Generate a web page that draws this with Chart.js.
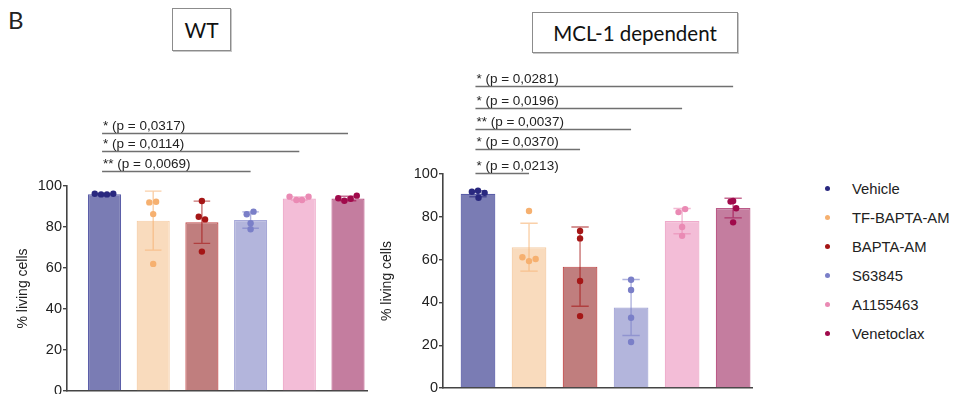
<!DOCTYPE html>
<html>
<head>
<meta charset="utf-8">
<script src="https://cdn.jsdelivr.net/npm/chart.js@4.4.1/dist/chart.umd.min.js"></script>
<style>
  body { margin: 0; background: #fff; font-family: "Liberation Sans", Arial, sans-serif; color: #222; }
  #page { position: relative; width: 953px; height: 394px; overflow: hidden; }
  .panel { position: absolute; top: 60px; width: 380px; height: 360px; }
  .tbox { position: absolute; box-sizing: border-box; border: 1px solid #8c8c8c; box-shadow: 1px 1px 0 #c8c8c8;
          display: flex; align-items: center; justify-content: center; font-family: Lato, "Open Sans", sans-serif; color: #111; }
  #letter { position: absolute; left: 8px; top: 5px; font-family: Lato, sans-serif; font-size: 24px; color: #222; }
  #legend { position: absolute; left: 825px; top: 174px; }
  .item { height: 29px; display: flex; align-items: center; font-size: 14.8px; color: #222; }
  .dot { width: 5px; height: 5px; border-radius: 50%; margin-right: 22px; }
</style>
</head>
<body>
<div id="page">
  <div id="letter">B</div>
  <div class="tbox" style="left:172px;top:8px;width:59px;height:43px;font-size:21px;">WT</div>
  <div class="tbox" style="left:532px;top:12px;width:206px;height:41px;font-size:20.5px;">MCL-1 dependent</div>
  <div class="panel" style="left:0px;"><canvas id="wtChart"></canvas></div>
  <div class="panel" style="left:380px;"><canvas id="mclChart"></canvas></div>
  <div id="legend"></div>
</div>
<script>
const categories = ['Vehicle', 'TF-BAPTA-AM', 'BAPTA-AM', 'S63845', 'A1155463', 'Venetoclax'];

// WT panel
const wtMeans = [96.0, 83.1, 82.3, 83.4, 93.9, 93.9];
const wtSd = [0.3, 14.4, 10.3, 4.0, 0.8, 1.1];
const wtPoints = [
    [96.2, 95.9, 95.9, 96.2],
    [92.0, 92.3, 86.3, 62.0],
    [92.7, 85.0, 83.7, 68.0],
    [86.2, 87.5, 81.8, 78.9],
    [94.8, 93.2, 93.2, 94.8],
    [94.0, 92.8, 93.8, 95.3]
];
const wtJitter = [
    [-0.2, -0.07, 0.05, 0.18],
    [-0.08, 0.06, 0, 0],
    [0, -0.065, 0.065, 0],
    [-0.08, 0.06, 0, 0],
    [-0.2, -0.06, 0.055, 0.19],
    [-0.2, -0.075, 0.055, 0.18]
];
const wtTestTo = [5, 4, 3];
const wtTestLabels = ['* (p = 0,0317)', '* (p = 0,0114)', '** (p = 0,0069)'];

// MCL-1 dependent panel
const mclMeans = [90.8, 65.8, 56.7, 37.6, 78.0, 84.1];
const mclSd = [1.4, 11.2, 18.5, 13.1, 5.9, 4.6];
const mclPoints = [
    [91.7, 92.2, 91.2, 88.9],
    [82.7, 61.1, 59.3, 60.3],
    [73.4, 69.9, 50.0, 33.6],
    [50.6, 45.8, 32.8, 21.5],
    [82.2, 83.6, 75.2, 71.1],
    [87.1, 87.4, 84.0, 77.4]
];
const mclJitter = [
    [-0.12, 0, 0.13, 0.01],
    [0, -0.13, 0, 0.13],
    [0, 0, 0, 0],
    [0, 0, 0, 0],
    [-0.07, 0.06, 0, 0],
    [-0.05, 0, 0.06, 0]
];
const mclTestTo = [5, 4, 3, 2, 1];
const mclTestLabels = ['* (p = 0,0281)', '* (p = 0,0196)', '** (p = 0,0037)', '* (p = 0,0370)', '* (p = 0,0213)'];

const yTicks = [0, 20, 40, 60, 80, 100];

const barFill = ['#7a7cb4', '#f9dbbd', '#c07e7e', '#b3b5dc', '#f3bdd7', '#c47d9f'];
const barBorder = ['#5b5ea8', '#f5cda6', '#c24a4a', '#a7a9d8', '#eeaaca', '#bb5a88'];
const dotColors = ['#29287f', '#f6b06f', '#a51616', '#7a7fc8', '#ea8ab4', '#a00a4b'];

const axisColor = '#444';

function makeChart(id, means, sd, points, jitter, testTo, testLabels, geo) {
    const datasets = [{
        type: 'bar',
        label: 'mean',
        data: means.map((m, i) => ({ x: i, y: m })),
        backgroundColor: barFill,
        borderColor: barBorder,
        borderWidth: 1.2,
        categoryPercentage: 1,
        barPercentage: 0.68,
        order: 10
    }];
    categories.forEach((name, i) => {
        datasets.push({
            type: 'scatter',
            label: name,
            data: points[i].map((v, k) => ({ x: i + jitter[i][k], y: v })),
            pointBackgroundColor: dotColors[i],
            pointBorderWidth: 0,
            pointRadius: 3.2,
            order: 0
        });
    });

    const errorBars = {
        id: 'errorBars',
        afterDatasetDraw(chart, args) {
            if (args.meta.type !== 'bar') return;
            const { ctx } = chart;
            const y = chart.scales.y;
            args.meta.data.forEach((bar, i) => {
                const top = y.getPixelForValue(means[i] + sd[i]);
                const bot = y.getPixelForValue(means[i] - sd[i]);
                const half = bar.width * 0.25;
                ctx.save();
                ctx.strokeStyle = dotColors[i];
                ctx.globalAlpha = 0.6;
                ctx.lineWidth = 1.4;
                ctx.beginPath();
                ctx.moveTo(bar.x, top); ctx.lineTo(bar.x, bot);
                ctx.moveTo(bar.x - half, top); ctx.lineTo(bar.x + half, top);
                ctx.moveTo(bar.x - half, bot); ctx.lineTo(bar.x + half, bot);
                ctx.stroke();
                ctx.restore();
            });
        }
    };

    const significance = {
        id: 'significance',
        afterDraw(chart) {
            const { ctx } = chart;
            const x = chart.scales.x, y = chart.scales.y;
            ctx.save();
            testTo.forEach((to, k) => {
                const ly = Math.round(y.getPixelForValue(geo.levels[k])) + 0.5;
                const x1 = x.getPixelForValue(-0.05);
                const x2 = x.getPixelForValue(to);
                ctx.strokeStyle = '#707070';
                ctx.lineWidth = 1.3;
                ctx.beginPath();
                ctx.moveTo(x1, ly); ctx.lineTo(x2, ly);
                ctx.stroke();
                ctx.fillStyle = '#222';
                ctx.font = '13.5px "Liberation Sans", Arial, sans-serif';
                ctx.textAlign = 'left';
                ctx.textBaseline = 'alphabetic';
                ctx.fillText(testLabels[k], x1 + 1, ly - 3.5);
            });
            ctx.restore();
        }
    };

    return new Chart(document.getElementById(id), {
        type: 'bar',
        data: { datasets },
        plugins: [errorBars, significance],
        options: {
            responsive: true,
            maintainAspectRatio: false,
            animation: false,
            layout: { padding: geo.padding },
            plugins: {
                legend: { display: false },
                tooltip: { enabled: false }
            },
            scales: {
                x: {
                    type: 'linear',
                    min: geo.xMin,
                    max: geo.xMax,
                    offset: false,
                    ticks: { display: false },
                    grid: { display: false, drawTicks: false },
                    border: { display: true, color: axisColor, width: 1.6 }
                },
                y: {
                    min: 0,
                    max: 100,
                    afterBuildTicks: s => { s.ticks = yTicks.map(v => ({ value: v })); },
                    afterFit: s => { s.width = geo.axisWidth; },
                    ticks: {
                        color: '#222',
                        padding: 1,
                        font: { family: '"Liberation Sans", Arial, sans-serif', size: 14.5 }
                    },
                    grid: { drawOnChartArea: false, drawTicks: true, tickLength: 4, color: axisColor, lineWidth: 1.4 },
                    border: { display: true, color: axisColor, width: 1.6 },
                    title: {
                        display: true,
                        text: '% living cells',
                        color: '#222',
                        padding: { top: geo.titlePad, bottom: 0 },
                        font: { family: '"Liberation Sans", Arial, sans-serif', size: 14, lineHeight: 1 }
                    }
                }
            }
        }
    });
}

makeChart('wtChart', wtMeans, wtSd, wtPoints, wtJitter, wtTestTo, wtTestLabels, {
    padding: { left: 0, top: 126, right: 13, bottom: 29 },
    axisWidth: 67, titlePad: 16,
    xMin: -0.77, xMax: 5.39,
    levels: [125.9, 117.1, 107.3]
});

makeChart('mclChart', mclMeans, mclSd, mclPoints, mclJitter, mclTestTo, mclTestLabels, {
    padding: { left: 0, top: 114, right: 8, bottom: 32 },
    axisWidth: 63, titlePad: 0,
    xMin: -0.686, xMax: 5.37,
    levels: [141.1, 130.8, 121.0, 111.7, 100.5]
});

const legend = document.getElementById('legend');
categories.forEach((name, i) => {
    const row = document.createElement('div');
    row.className = 'item';
    row.innerHTML = '<span class="dot" style="background:' + dotColors[i] + '"></span>' + name;
    legend.appendChild(row);
});
</script>
</body>
</html>
